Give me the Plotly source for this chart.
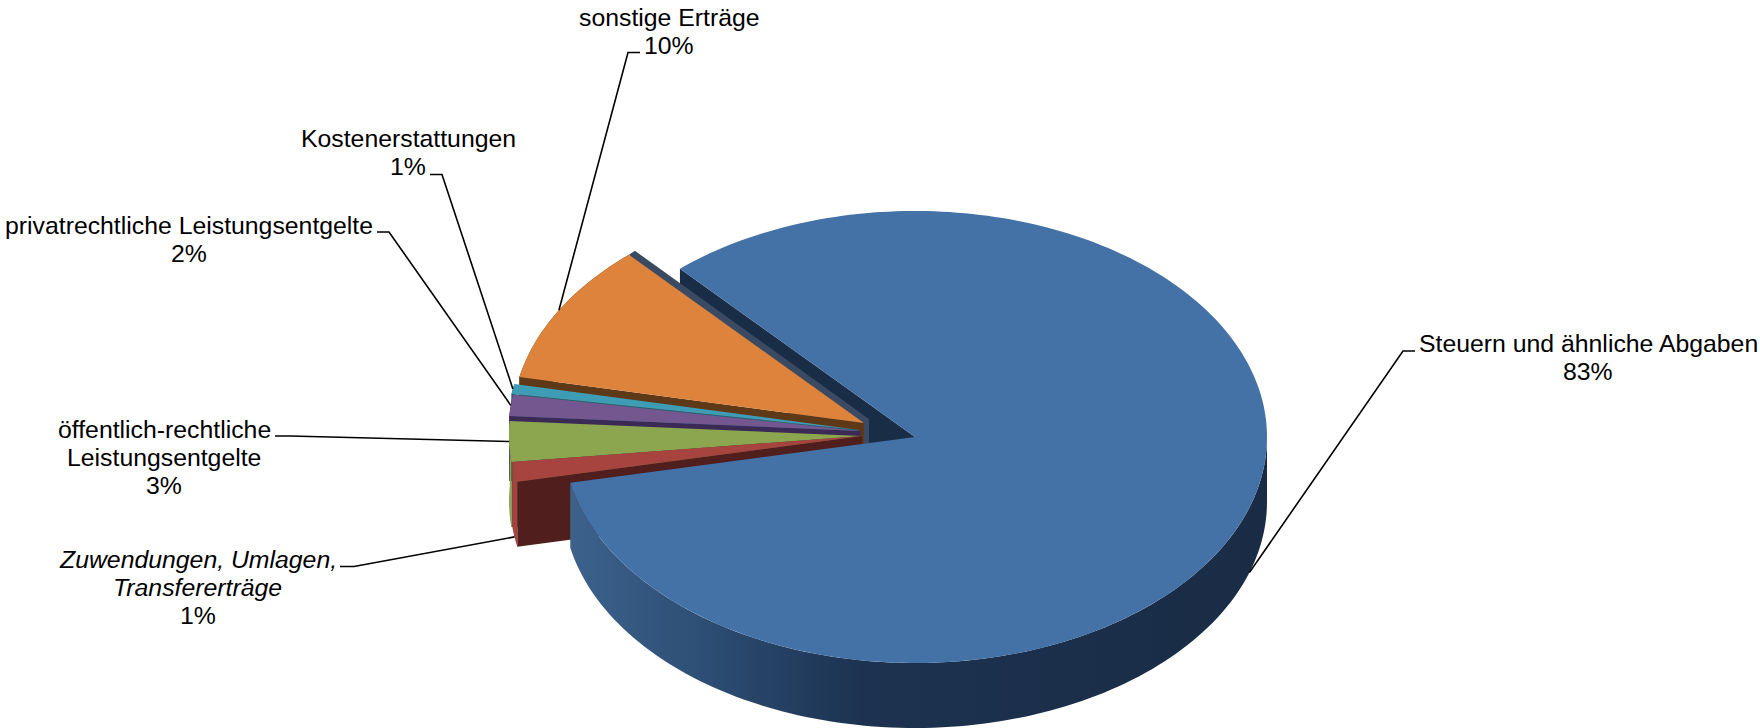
import math
import plotly.graph_objects as go

# ---- data ----
categories = ["Steuern und ähnliche Abgaben", "Zuwendungen, Umlagen,<br>Transfererträge",
              "öffentlich-rechtliche<br>Leistungsentgelte", "privatrechtliche Leistungsentgelte",
              "Kostenerstattungen", "sonstige Erträge"]
values = [83.4, 1.4, 2.9, 1.5, 0.7, 10.1]
top_colors = ["#4471A6", "#A8443F", "#8BA64E", "#74578F", "#3F9CB5", "#DD833B"]
radial_colors = ["#1A2D47", "#4F1E1D", "#465A2A", "#3A2A55", "#1F6478", "#5E3918"]
outer_colors = ["#1A2D47", "#A5423E", "#8EA850", "#3A2A55", "#1F6478", "#5E3918"]

# ---- projection of the tilted disc ----
CX, CY = 915, 437
RX, RY = 352, 226
DEPTH = 65
START = 131.9
pull_dx = [0, -53, -54, -54.5, -56, -51]
pull_dy = [0, -1, -1, -6, -7, -14]
W, H = 1760, 728
FONT_SIZE = 24.8
LINE_STEP = 28

# label block centres and leader elbows (layout)
label_pos = [(1588, 357.5), (197.5, 587.5), (164, 457.5), (188.5, 239), (408, 152), (669, 31)]
elbows = [[(1415, 351), (1403, 351)], [(340, 566.5), (354, 566.5)], [(275, 436), (290, 436)],
          [(377, 232), (389, 232)], [(430, 174.5), (442, 174.5)], [(640, 52.5), (628, 52.5)]]
anchor_drop = [65, 65, 0, 0, 0, 0]


def arc(ax, ay, a0, a1, n=60):
    xs, ys = [], []
    for i in range(n + 1):
        t = math.radians(a0 + (a1 - a0) * i / n)
        xs.append(ax + RX * math.cos(t))
        ys.append(ay - RY * math.sin(t))
    return xs, ys


def poly(fig, xs, ys, color):
    fig.add_trace(go.Scatter(x=xs + xs[:1], y=ys + ys[:1], mode="lines", fill="toself",
                             fillcolor=color, line=dict(width=0, color=color, simplify=False),
                             hoverinfo="skip", showlegend=False))


# angles: clockwise from START
spans = []
cur = START
for v in values:
    nxt = cur - v * 3.6
    spans.append((cur, nxt))
    cur = nxt

apex = [(CX + dx, CY + dy) for dx, dy in zip(pull_dx, pull_dy)]

fig = go.Figure()

# inner wall of the large slice, seen through the gap
bx, by = arc(CX, CY, START, START, n=1)
poly(fig, [bx[0], CX, CX, bx[0]], [by[0], CY, CY + DEPTH, by[0] + DEPTH], "#1A2D47")

# slate wall beside the detached orange slice
ox, oy = apex[5]
cx5, cy5 = arc(ox, oy, START, START, n=1)
poly(fig, [cx5[0] + 6, ox + 5, ox + 5, ox, cx5[0]],
     [cy5[0] - 4, oy - 4, oy + DEPTH, oy + DEPTH, cy5[0]], "#3A4A63")

# small slices, back to front
for i in [5, 4, 3, 2, 1]:
    a0, a1 = spans[i]
    ax, ay = apex[i]
    # wall along the lower radial edge (a0 is the lower edge of each small slice)
    ex, ey = arc(ax, ay, a0, a0, n=1)
    poly(fig, [ax, ex[0], ex[0], ax], [ay, ey[0], ey[0] + DEPTH, ay + DEPTH], radial_colors[i])
    # outer rim
    tx, ty = arc(ax, ay, a0, a1, n=24)
    poly(fig, tx + tx[::-1], ty + [y + DEPTH for y in ty[::-1]], outer_colors[i])
    # top face
    poly(fig, [ax] + tx, [ay] + ty, top_colors[i])

# large slice: rim with horizontal gradient, then top face
a0, a1 = spans[0]
rim_x, rim_y = arc(CX, CY, 360 + a1, 360, n=120)
fig.add_trace(go.Scatter(
    x=rim_x + rim_x[::-1], y=rim_y + [y + DEPTH for y in rim_y[::-1]], mode="lines",
    fill="toself", line=dict(width=0, simplify=False), hoverinfo="skip", showlegend=False,
    fillgradient=dict(type="horizontal",
                      colorscale=[[0, "#3C628C"], [0.18, "#2E4F76"], [0.42, "#1C3250"], [1, "#1A2C45"]])))
tx, ty = arc(CX, CY, a0, a1, n=240)
poly(fig, [CX] + tx, [CY] + ty, top_colors[0])

# leader lines end on the slice edge at its middle angle
for i, (a0, a1) in enumerate(spans):
    ax, ay = apex[i]
    ex, ey = arc(ax, ay, (a0 + a1) / 2, (a0 + a1) / 2, n=1)
    fig.add_trace(go.Scatter(x=[p[0] for p in elbows[i]] + [ex[0]],
                             y=[p[1] for p in elbows[i]] + [ey[0] + anchor_drop[i]],
                             mode="lines", line=dict(color="#000000", width=1.6),
                             hoverinfo="skip", showlegend=False))

# labels, one annotation per line for the tight line pitch
for i, name in enumerate(categories):
    parts = name.split("<br>")
    if i == 1:
        parts = [f"<i>{part}</i>" for part in parts]
    lines = parts + [f"{round(values[i])}%"]
    top = label_pos[i][1] - LINE_STEP * (len(lines) - 1) / 2
    for k, line in enumerate(lines):
        fig.add_annotation(x=label_pos[i][0], y=top + k * LINE_STEP, xref="x", yref="y",
                           text=line, showarrow=False, xanchor="center", yanchor="middle",
                           font=dict(family="Liberation Sans", size=FONT_SIZE, color="#000000"))

fig.update_layout(width=W, height=H, margin=dict(l=0, r=0, t=0, b=0), autosize=False,
                  paper_bgcolor="#FFFFFF", plot_bgcolor="#FFFFFF", showlegend=False,
                  xaxis=dict(range=[0, W], visible=False, fixedrange=True),
                  yaxis=dict(range=[H, 0], visible=False, fixedrange=True))

fig.write_html("out.html", config={"displayModeBar": False},
               post_script="document.body.style.margin='0';document.body.style.overflow='hidden';")
